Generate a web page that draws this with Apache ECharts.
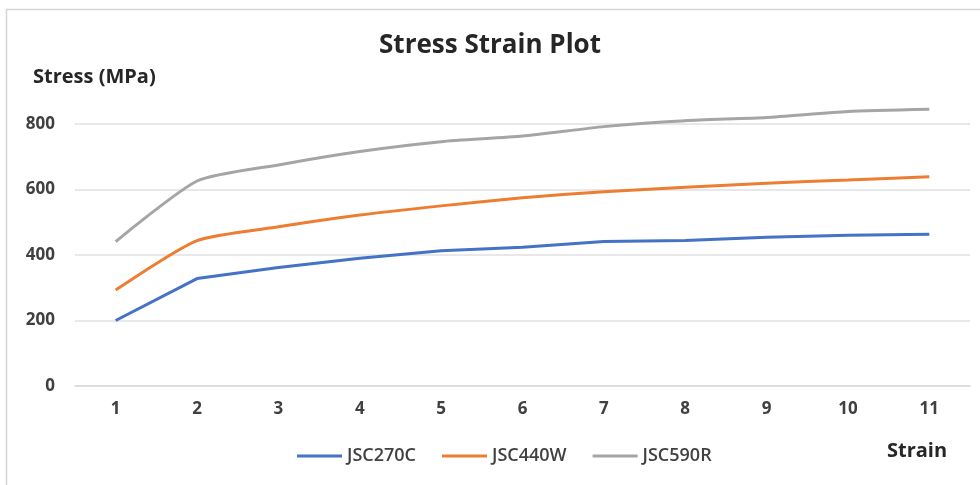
<!DOCTYPE html>
<html>
<head>
<meta charset="utf-8">
<script src="https://cdn.jsdelivr.net/npm/echarts@6/dist/echarts.min.js"></script>
<style>
html,body{margin:0;padding:0;background:#fff;}
#chart{width:980px;height:485px;}
</style>
</head>
<body>
<div id="chart"></div>
<script>
const categories = ['1','2','3','4','5','6','7','8','9','10','11'];
const jsc270c = [200, 328, 362, 390, 413, 424, 441, 444, 454, 460, 463];
const jsc440w = [293, 444, 486, 522, 550, 575, 593, 607, 619, 629, 639];
const jsc590r = [441, 626, 675, 716, 746, 763, 792, 810, 820, 838, 845];
const seriesNames = ['JSC270C', 'JSC440W', 'JSC590R'];
const yTicks = [0, 200, 400, 600, 800];

const FONT = 'Open Sans';
const chart = echarts.init(document.getElementById('chart'), null, {renderer: 'canvas'});
const mk = (name, data, color, smooth) => ({
  name, type: 'line', data, smooth, clip: false,
  symbol: 'none',
  lineStyle: {color, width: 3},
  itemStyle: {color}
});
chart.setOption({
  animation: false,
  backgroundColor: '#fff',
  graphic: [
    {type: 'rect', shape: {x: 6.5, y: 9.5, width: 990, height: 490}, style: {fill: 'none', stroke: '#d4d4d4', lineWidth: 1.5}, silent: true},
    {type: 'text', left: 887, top: 441, style: {text: 'Strain', font: 'bold 20px "' + FONT + '"', fill: '#262626'}}
  ],
  title: {
    text: 'Stress Strain Plot', left: 'center', top: 28,
    textStyle: {fontFamily: FONT, fontSize: 26, fontWeight: 'bold', color: '#262626'}
  },
  legend: {
    data: seriesNames, left: 292, top: 442, itemWidth: 45, itemHeight: 3, itemGap: 26,
    icon: 'rect',
    textStyle: {fontFamily: FONT, fontSize: 18, fontWeight: 600, color: '#404040'}
  },
  grid: {left: 75, right: 10, top: 124, bottom: 99, containLabel: false},
  xAxis: {
    type: 'category', data: categories, boundaryGap: true,
    axisLine: {show: true, lineStyle: {color: '#d9d9d9', width: 1.5}},
    axisTick: {show: false},
    axisLabel: {margin: 15, fontFamily: FONT, fontSize: 17, fontWeight: 'bold', color: '#404040'}
  },
  yAxis: {
    type: 'value', min: yTicks[0], max: yTicks[yTicks.length - 1], interval: 200,
    name: 'Stress (MPa)', nameLocation: 'end', nameGap: 37,
    nameTextStyle: {fontFamily: FONT, fontSize: 20, fontWeight: 'bold', color: '#262626', align: 'left', padding: [0, 0, 0, -42]},
    axisLine: {show: false}, axisTick: {show: false},
    splitLine: {lineStyle: {color: '#e0e0e0', width: 1.5}},
    axisLabel: {margin: 20, fontFamily: FONT, fontSize: 17, fontWeight: 'bold', color: '#404040'}
  },
  series: [
    mk(seriesNames[0], jsc270c, '#4472C4', false),
    mk(seriesNames[1], jsc440w, '#ED7D31', 0.2),
    mk(seriesNames[2], jsc590r, '#A5A5A5', 0.2)
  ]
});
</script>
</body>
</html>
